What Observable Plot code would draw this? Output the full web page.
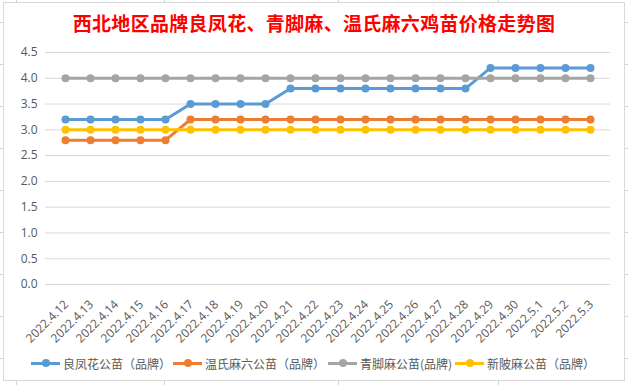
<!DOCTYPE html>
<html>
<head>
<meta charset="utf-8">
<script src="https://cdn.jsdelivr.net/npm/d3@7"></script>
<script src="https://cdn.jsdelivr.net/npm/@observablehq/plot@0.6"></script>
<style>
  html, body { margin: 0; padding: 0; background: #fff; }
  #wrap { position: relative; width: 628px; height: 385px; overflow: hidden;
    background-image:
      repeating-linear-gradient(to bottom, transparent 0 22px, #d4d4d4 22px 23px, transparent 23px 42px);
  }
  .vline { position: absolute; top: 0; bottom: 0; width: 1px; background: #d4d4d4; }
  #frame { position: absolute; left: 3px; top: 2px; width: 620px; height: 377px;
    border: 1px solid #d9d9d9; background: #fff; }
  #title { position: absolute; left: 0; width: 628px; top: 9px; text-align: center;
    font-family: "Noto Sans CJK SC", sans-serif; font-weight: bold; font-size: 19px; color: #ff0000; letter-spacing: 0.3px; }
  #chart { position: absolute; left: 0; top: 0; }
  #legend { position: absolute; left: 0; top: 353px; width: 628px; height: 20px;
    font-family: "Noto Sans CJK SC", sans-serif; font-size: 12px; color: #595959; }
  .item { position: absolute; top: 0; display: flex; align-items: center; height: 20px; white-space: nowrap; }
  .sw { position: relative; width: 29px; height: 3px; margin-right: 3px; }
  .sw i { position: absolute; left: 10.5px; top: -2.5px; width: 8px; height: 8px; border-radius: 50%; }
</style>
</head>
<body>
<div id="wrap">
  <div class="vline" style="left:16px"></div>
  <div class="vline" style="left:164px"></div>
  <div class="vline" style="left:338px"></div>
  <div class="vline" style="left:498px"></div>
  <div id="frame"></div>
  <div id="chart"></div>
  <div id="title"></div>
  <div id="legend"></div>
</div>
<script>
const dates = ["2022.4.12","2022.4.13","2022.4.14","2022.4.15","2022.4.16","2022.4.17","2022.4.18","2022.4.19","2022.4.20","2022.4.21","2022.4.22","2022.4.23","2022.4.24","2022.4.25","2022.4.26","2022.4.27","2022.4.28","2022.4.29","2022.4.30","2022.5.1","2022.5.2","2022.5.3"];
const seriesNames = ["良凤花公苗（品牌）","温氏麻六公苗（品牌）","青脚麻公苗(品牌)","新陂麻公苗（品牌）"];
const seriesColors = ["#5b9bd5","#ed7d31","#a5a5a5","#ffc000"];
const liangfenghua = [3.2,3.2,3.2,3.2,3.2,3.5,3.5,3.5,3.5,3.8,3.8,3.8,3.8,3.8,3.8,3.8,3.8,4.2,4.2,4.2,4.2,4.2];
const wenshi = [2.8,2.8,2.8,2.8,2.8,3.2,3.2,3.2,3.2,3.2,3.2,3.2,3.2,3.2,3.2,3.2,3.2,3.2,3.2,3.2,3.2,3.2];
const qingjiao = [4.0,4.0,4.0,4.0,4.0,4.0,4.0,4.0,4.0,4.0,4.0,4.0,4.0,4.0,4.0,4.0,4.0,4.0,4.0,4.0,4.0,4.0];
const xinbei = [3.0,3.0,3.0,3.0,3.0,3.0,3.0,3.0,3.0,3.0,3.0,3.0,3.0,3.0,3.0,3.0,3.0,3.0,3.0,3.0,3.0,3.0];
const yTicks = [0,0.5,1,1.5,2,2.5,3,3.5,4,4.5];
const titleText = "西北地区品牌良凤花、青脚麻、温氏麻六鸡苗价格走势图";

const allValues = [liangfenghua, wenshi, qingjiao, xinbei];
const data = [];
allValues.forEach((vals, s) => vals.forEach((v, i) => data.push({date: dates[i], value: v, series: seriesNames[s]})));
const chart = Plot.plot({
  width: 628,
  height: 345,
  marginLeft: 45,
  marginRight: 18,
  marginTop: 52,
  marginBottom: 61,
  style: {fontFamily: "'Open Sans', sans-serif", background: "transparent", color: "#595959"},
  x: {type: "point", domain: dates, padding: 0.5},
  y: {domain: [0, 4.5]},
  color: {domain: seriesNames, range: seriesColors},
  marks: [
    Plot.ruleY(yTicks, {stroke: "#d9d9d9", strokeWidth: 1}),
    Plot.axisY(yTicks, {tickSize: 0, tickPadding: 8, tickFormat: d3.format(".1f"), fontSize: 12, fill: "#595959", label: null}),
    Plot.axisX({tickSize: 0, tickRotate: -45, fontSize: 12, fill: "#595959", label: null, dx: 1, dy: 6}),
    Plot.line(data, {x: "date", y: "value", z: "series", stroke: "series", strokeWidth: 3, strokeLinejoin: "round", strokeLinecap: "round"}),
    Plot.dot(data, {x: "date", y: "value", fill: "series", r: 4})
  ]
});
document.getElementById("chart").appendChild(chart);
document.getElementById("title").textContent = titleText;

const legendPos = [31, 173, 328, 455];
const leg = document.getElementById("legend");
seriesNames.forEach((n, i) => {
  const it = document.createElement("div");
  it.className = "item";
  it.style.left = legendPos[i] + "px";
  it.innerHTML = `<span class="sw" style="background:${seriesColors[i]}"><i style="background:${seriesColors[i]}"></i></span><span>${n}</span>`;
  leg.appendChild(it);
});
</script>
</body>
</html>
